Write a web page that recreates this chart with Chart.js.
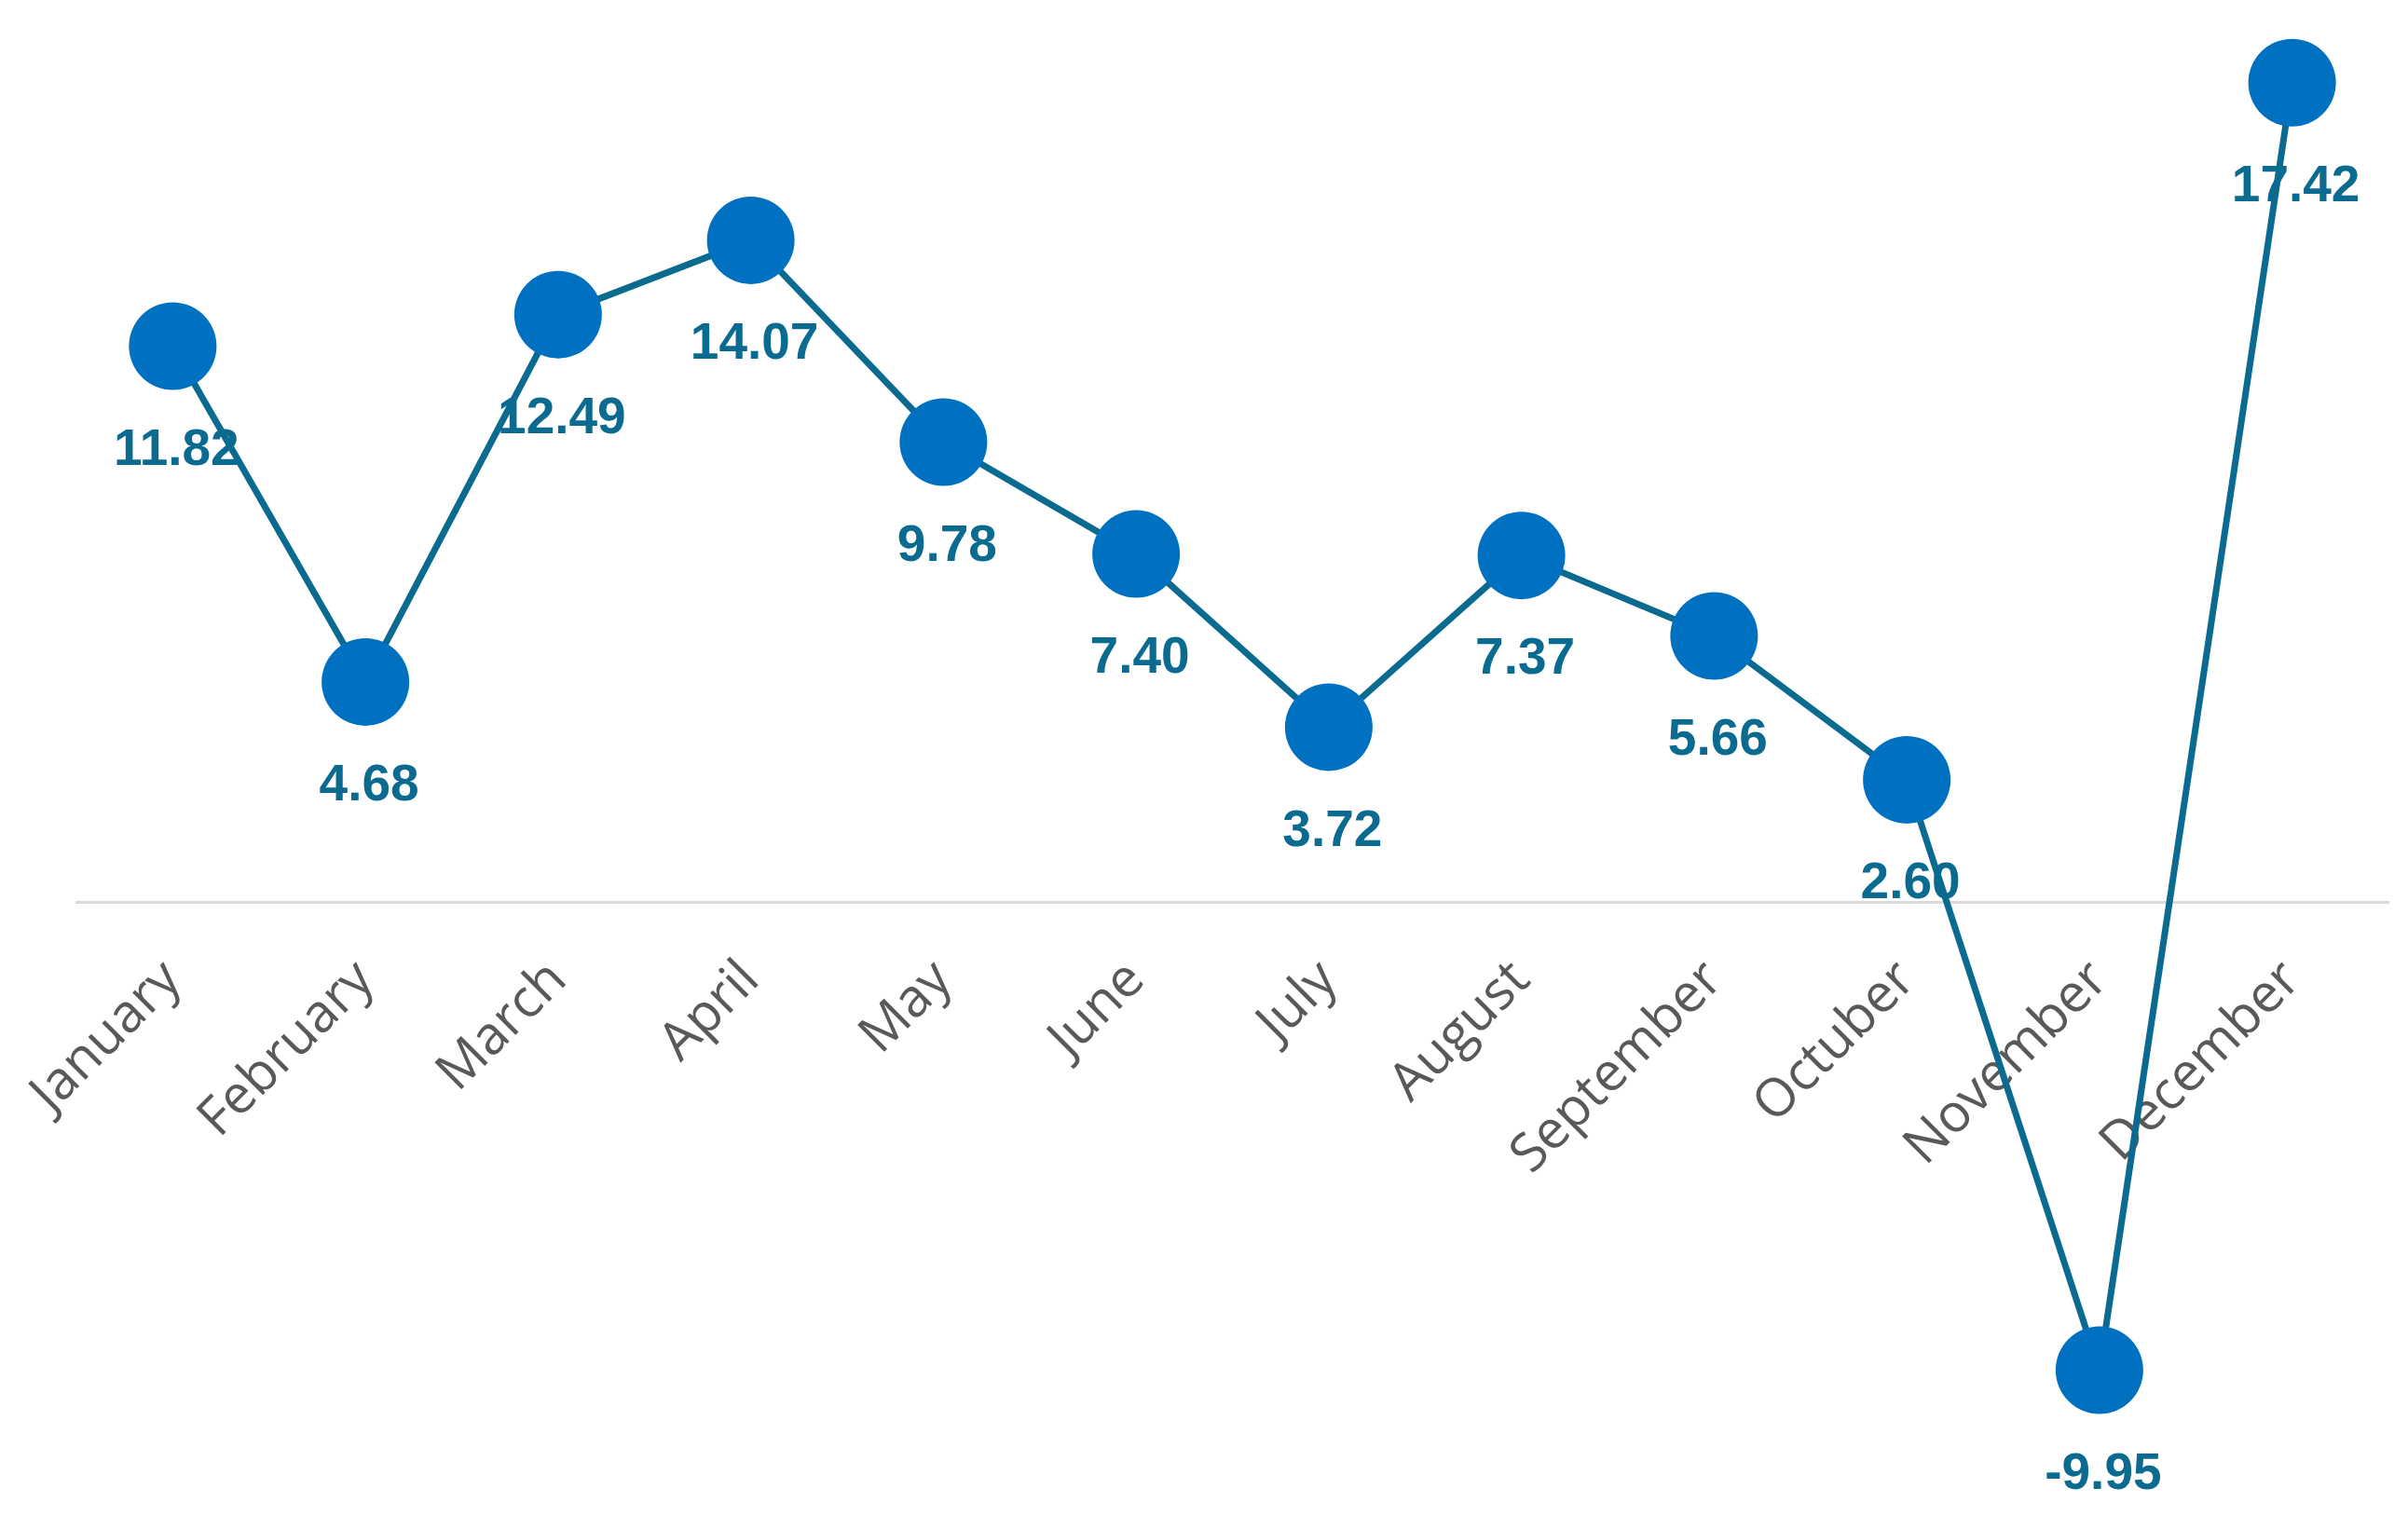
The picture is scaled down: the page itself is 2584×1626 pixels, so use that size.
<!DOCTYPE html>
<html>
<head>
<meta charset="utf-8">
<script src="https://cdn.jsdelivr.net/npm/chart.js@4.4.1/dist/chart.umd.min.js"></script>
<style>
html,body{margin:0;padding:0;background:#ffffff;overflow:hidden}
canvas{display:block}
</style>
</head>
<body>
<canvas id="c" width="2584" height="1626"></canvas>
<script>
// ---- data ----
const months = ['January','February','March','April','May','June','July','August','September','Octuber','November','December'];
const values = [11.82, 4.68, 12.49, 14.07, 9.78, 7.40, 3.72, 7.37, 5.66, 2.60, -9.95, 17.42];
const valueLabels = ['11.82','4.68','12.49','14.07','9.78','7.40','3.72','7.37','5.66','2.60','-9.95','17.42'];
const yRange = [-12, 19];

// ---- styles ----
const LINE_COLOR = '#0B6A8F';
const MARKER_COLOR = '#0070C0';
const LABEL_COLOR = '#0B6A8F';
const AXIS_TEXT = '#595959';
const ZERO_LINE = '#D9D9D9';

const dataLabels = {
  id: 'dataLabels',
  beforeDatasetsDraw(chart) {
    const ctx = chart.ctx;
    const meta = chart.getDatasetMeta(0);
    ctx.save();
    ctx.font = 'bold 55px "Liberation Sans", Arial, sans-serif';
    ctx.fillStyle = LABEL_COLOR;
    ctx.textAlign = 'center';
    ctx.textBaseline = 'middle';
    meta.data.forEach((pt, i) => {
      ctx.fillText(valueLabels[i], pt.x + 4, pt.y + 112);
    });
    ctx.restore();
  }
};

function build() {
  new Chart(document.getElementById('c'), {
    type: 'line',
    data: {
      labels: months,
      datasets: [{
        data: values,
        borderColor: LINE_COLOR,
        borderWidth: 7,
        backgroundColor: MARKER_COLOR,
        pointBackgroundColor: MARKER_COLOR,
        pointBorderColor: MARKER_COLOR,
        pointBorderWidth: 0,
        pointRadius: 47,
        pointHoverRadius: 47,
        tension: 0,
        fill: false,
        clip: false
      }]
    },
    options: {
      responsive: false,
      animation: false,
      devicePixelRatio: 1,
      layout: { autoPadding: false, padding: { left: 82, right: 21, top: 9, bottom: 52 } },
      plugins: { legend: { display: false }, tooltip: { enabled: false } },
      scales: {
        x: {
          type: 'category',
          offset: true,
          position: { y: 0 },
          grid: { display: false, drawTicks: false },
          border: { display: true, color: ZERO_LINE, width: 3 },
          ticks: {
            color: AXIS_TEXT,
            font: { family: '"Open Sans"', size: 57 },
            minRotation: 45,
            maxRotation: 45,
            autoSkip: false,
            padding: 50
          },
          afterFit(scale) {
            scale.height = 0;
            scale.paddingLeft = 0;
            scale.paddingRight = 0;
            scale.paddingTop = 0;
            scale.paddingBottom = 0;
          }
        },
        y: {
          type: 'linear',
          min: yRange[0],
          max: yRange[1],
          display: false
        }
      }
    },
    plugins: [dataLabels]
  });
}

Promise.all([
  document.fonts.load('57px "Open Sans"'),
  document.fonts.load('bold 55px "Liberation Sans"')
]).then(build, build);
</script>
</body>
</html>
